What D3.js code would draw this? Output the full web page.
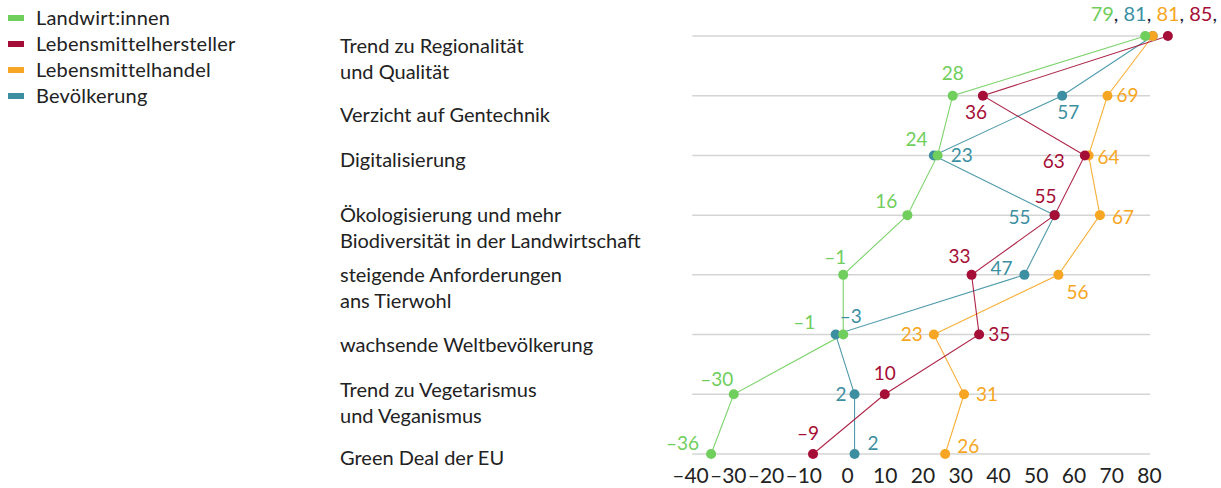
<!DOCTYPE html>
<html><head><meta charset="utf-8">
<script src="https://cdn.jsdelivr.net/npm/d3@7"></script>
<style>
html,body{margin:0;padding:0;background:#fff;}
svg{display:block;font-family:Lato, "Noto Sans", sans-serif;}
</style></head>
<body>
<svg id="chart" width="1221" height="488"></svg>
<script>
// ---- data ----
const categories = [
  ["Trend zu Regionalität", "und Qualität"],
  ["Verzicht auf Gentechnik"],
  ["Digitalisierung"],
  ["Ökologisierung und mehr", "Biodiversität in der Landwirtschaft"],
  ["steigende Anforderungen", "ans Tierwohl"],
  ["wachsende Weltbevölkerung"],
  ["Trend zu Vegetarismus", "und Veganismus"],
  ["Green Deal der EU"]
];
const seriesNames = ["Landwirt:innen", "Lebensmittelhersteller", "Lebensmittelhandel", "Bevölkerung"];
const landwirte   = [79, 28, 24, 16, -1, -1, -30, -36];
const hersteller  = [85, 36, 63, 55, 33, 35, 10, -9];
const handel      = [81, 69, 64, 67, 56, 23, 31, 26];
const bevoelkerung= [81, 57, 23, 55, 47, -3, 2, 2];
const xTicks = [-40, -30, -20, -10, 0, 10, 20, 30, 40, 50, 60, 70, 80];

// ---- layout / style ----
const colors = ["#6fce5c", "#a50e36", "#f6a623", "#3c8fa1"];
// label placement per series per row: [anchor, dx, dy]
const labelPos = [
  [null, ["middle",0,-22], ["end",-10,-16], ["end",-10,-14], ["middle",-8,-18], ["end",-28,-12], ["middle",-17,-15], ["end",-12,-11]],
  [null, ["middle",-7,17], ["end",-20,6], ["middle",-9,-19], ["middle",-12,-19], ["start",9,0], ["middle",0,-21], ["middle",-5,-21]],
  [null, ["start",9,0], ["start",9,2], ["start",12,2], ["start",8,17], ["end",-11,0], ["start",12,0], ["start",12,-8]],
  [null, ["middle",6,17], ["start",17,0], ["end",-24,2], ["end",-12,-7], ["start",4,-18], ["end",-8,0], ["start",13,-11]]
];
const labelBaseline = [17, 26, 12, 7, 7, 17, 3, 11];
const drawOrder = [3, 2, 0, 1];

const svg = d3.select("#chart");
const x = d3.scaleLinear().domain([-40, 80]).range([696, 1149]);
const y = d3.scalePoint().domain(d3.range(categories.length)).range([36, 454]);
const data = [landwirte, hersteller, handel, bevoelkerung];
const fmt = v => v < 0 ? "\u2013" + Math.abs(v) : String(v);

// gridlines
svg.append("g").selectAll("line").data(categories).join("line")
  .attr("x1", x(-41)).attr("x2", x(80.3))
  .attr("y1", (d,i) => y(i)).attr("y2", (d,i) => y(i))
  .attr("stroke", "#d4d4d4").attr("stroke-width", 1.5);

// x axis
const axis = svg.append("g").attr("transform", "translate(0,476)")
  .call(d3.axisBottom(x).tickValues(xTicks).tickSize(0).tickPadding(0).tickFormat(fmt));
axis.select(".domain").remove();
axis.selectAll("text").attr("font-size", 21).attr("fill", "#222")
  .attr("font-family", "Lato, sans-serif").attr("dy", "0.35em")
  .attr("dx", d => d < 0 ? -6 : 0);

// category labels
const cat = svg.append("g").selectAll("text").data(categories).join("text")
  .attr("x", 340).attr("y", (d,i) => y(i) + labelBaseline[i])
  .attr("font-size", 20).attr("fill", "#222");
cat.selectAll("tspan").data(d => d).join("tspan")
  .attr("x", 340).attr("dy", (d,j) => j === 0 ? 0 : 26).text(d => d);

// lines
const line = d3.line().x(d => x(d)).y((d,i) => y(i));
drawOrder.forEach(s => {
  svg.append("path").datum(data[s]).attr("d", line)
    .attr("fill", "none").attr("stroke", colors[s]).attr("stroke-width", 1.1).attr("opacity", 0.9);
});
// dots
drawOrder.forEach(s => {
  svg.append("g").selectAll("circle").data(data[s]).join("circle")
    .attr("cx", d => x(d)).attr("cy", (d,i) => y(i)).attr("r", 5).attr("fill", colors[s]);
});
// value labels
drawOrder.forEach(s => {
  svg.append("g").selectAll("text").data(data[s].map((v,i)=>({v,i})).filter(d => labelPos[s][d.i]))
    .join("text")
    .attr("x", d => x(d.v) + labelPos[s][d.i][1])
    .attr("y", d => y(d.i) + labelPos[s][d.i][2])
    .attr("dy", "0.35em")
    .attr("text-anchor", d => labelPos[s][d.i][0])
    .attr("font-size", 19).attr("fill", colors[s])
    .text(d => fmt(d.v));
});
// top row combined label
const topLabel = svg.append("text").attr("x", 1217).attr("y", 14).attr("dy", "0.35em")
  .attr("text-anchor", "end").attr("font-size", 20);
[0, 3, 2, 1].forEach((s, k) => {
  topLabel.append("tspan").attr("fill", colors[s]).text(fmt(data[s][0]));
  topLabel.append("tspan").attr("fill", "#1b1f3b").text(k < 3 ? ", " : ",");
});

// legend
const leg = svg.append("g").selectAll("g").data(seriesNames).join("g")
  .attr("transform", (d,i) => `translate(8,${18 + i*26})`);
leg.append("rect").attr("x", 0).attr("y", -3).attr("width", 16).attr("height", 6)
  .attr("fill", (d,i) => colors[i]);
leg.append("text").attr("x", 28).attr("dy", "0.35em").attr("font-size", 20)
  .attr("letter-spacing", 0.2).attr("fill", "#222").text(d => d);
</script>
</body></html>
